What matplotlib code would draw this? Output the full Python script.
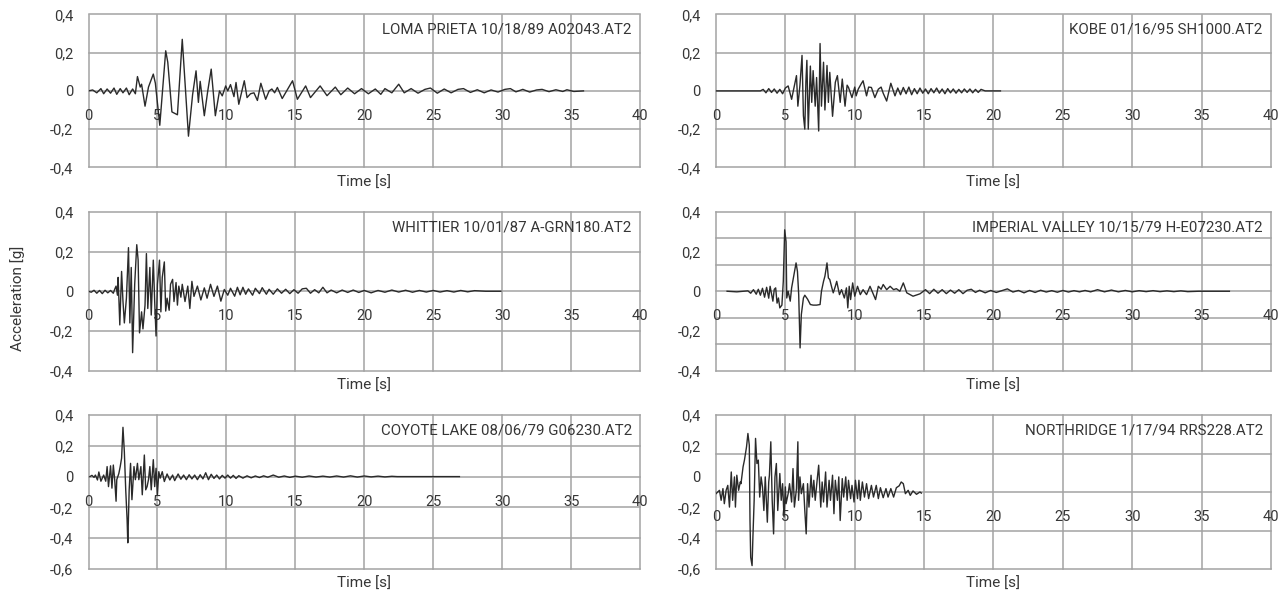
import matplotlib

matplotlib.use("Agg")
import matplotlib.pyplot as plt

plt.rcParams["font.family"] = ["Roboto", "DejaVu Sans"]

TEXT_COLOR = "#363636"
GRID_COLOR = "#a3a3a3"
LINE_COLOR = "#2a2a2a"

X_TICKS = [0, 5, 10, 15, 20, 25, 30, 35, 40]
Y_LABELS_04 = ["-0,4", "-0,2", "0", "0,2", "0,4"]
Y_LABELS_06 = ["-0,6", "-0,4", "-0,2", "0", "0,2", "0,4"]

TITLES = [
    "LOMA PRIETA 10/18/89 A02043.AT2",
    "KOBE 01/16/95 SH1000.AT2",
    "WHITTIER 10/01/87 A-GRN180.AT2",
    "IMPERIAL VALLEY 10/15/79 H-E07230.AT2",
    "COYOTE LAKE 08/06/79 G06230.AT2",
    "NORTHRIDGE 1/17/94 RRS228.AT2",
]

# (time [s], acceleration [g])
LOMA = [
    (0.0, 0.0), (0.3, 0.005), (0.6, -0.01), (0.9, 0.012), (1.1, -0.015), (1.35, 0.01),
    (1.6, -0.012), (1.85, 0.015), (2.05, -0.018), (2.3, 0.012), (2.5, -0.01), (2.75, 0.015),
    (2.95, -0.02), (3.2, 0.01), (3.4, -0.015), (3.55, 0.075), (3.75, 0.02), (3.85, 0.035),
    (4.1, -0.08), (4.35, 0.02), (4.7, 0.088), (4.85, 0.04), (5.17, -0.18), (5.6, 0.21),
    (5.75, 0.15), (6.05, -0.11), (6.45, -0.125), (6.8, 0.27), (7.25, -0.237), (7.55, -0.02),
    (7.8, 0.105), (7.97, -0.06), (8.1, 0.05), (8.4, -0.13), (8.65, 0.0), (8.9, 0.114),
    (9.2, -0.13), (9.5, 0.0), (9.7, -0.026), (9.95, 0.026), (10.1, 0.0), (10.3, 0.033),
    (10.55, -0.03), (10.7, 0.044), (10.9, -0.07), (11.3, 0.053), (11.5, -0.035), (11.75, -0.015),
    (12.0, -0.01), (12.25, -0.05), (12.5, 0.04), (12.85, -0.044), (13.1, 0.0), (13.3, 0.01),
    (13.5, -0.01), (13.7, 0.018), (14.05, -0.04), (14.8, 0.053), (15.15, -0.044), (15.75, 0.026),
    (16.1, -0.035), (16.8, 0.026), (17.3, -0.025), (17.9, 0.02), (18.3, -0.02), (18.8, 0.015),
    (19.3, -0.015), (19.8, 0.012), (20.3, -0.015), (20.8, 0.01), (21.2, -0.018), (21.5, 0.012),
    (22.0, -0.01), (22.5, 0.035), (22.9, -0.01), (23.4, 0.012), (23.9, -0.012), (24.4, 0.008),
    (24.8, 0.015), (25.3, -0.012), (25.8, 0.01), (26.3, -0.01), (26.8, 0.008), (27.2, 0.012),
    (27.7, -0.008), (28.2, 0.006), (28.7, -0.01), (29.2, 0.005), (29.7, -0.006), (30.2, 0.008),
    (30.6, 0.012), (31.0, -0.005), (31.5, 0.008), (32.0, -0.006), (32.5, 0.005), (32.9, 0.008),
    (33.4, -0.004), (33.9, 0.006), (34.4, -0.003), (34.7, 0.006), (35.2, -0.003), (35.9, 0.0),
]

KOBE = [
    (0.0, 0.0), (3.2, 0.0), (3.4, 0.008), (3.6, -0.01), (3.8, 0.012), (4.0, -0.008),
    (4.2, 0.01), (4.4, -0.012), (4.6, 0.008), (4.8, -0.015), (5.0, 0.015), (5.2, 0.026),
    (5.45, -0.044), (5.6, 0.01), (5.8, 0.08), (5.9, -0.08), (6.05, 0.03), (6.2, 0.186),
    (6.3, -0.13), (6.4, -0.2), (6.48, 0.05), (6.55, 0.16), (6.65, -0.2), (6.8, 0.13),
    (6.9, -0.06), (7.0, 0.106), (7.15, -0.08), (7.25, 0.07), (7.4, -0.21), (7.5, 0.248),
    (7.6, -0.08), (7.75, 0.15), (7.85, -0.1), (8.0, 0.133), (8.1, -0.06), (8.2, 0.097),
    (8.4, -0.133), (8.6, 0.045), (8.75, 0.08), (8.95, -0.06), (9.1, 0.062), (9.3, -0.08),
    (9.45, 0.03), (9.55, 0.018), (9.8, -0.035), (10.0, 0.02), (10.1, -0.026), (10.25, 0.009),
    (10.45, 0.035), (10.6, 0.053), (10.85, -0.026), (11.0, 0.02), (11.2, 0.018), (11.45, -0.035),
    (11.7, 0.009), (11.9, 0.02), (12.05, -0.012), (12.3, -0.053), (12.6, 0.04), (12.9, -0.026),
    (13.1, 0.015), (13.3, -0.02), (13.5, 0.018), (13.7, -0.015), (13.9, 0.02), (14.1, -0.02),
    (14.3, 0.012), (14.5, -0.015), (14.7, 0.015), (14.9, -0.012), (15.1, 0.01), (15.3, -0.015),
    (15.5, 0.012), (15.7, -0.01), (15.9, 0.015), (16.1, -0.012), (16.3, 0.01), (16.5, -0.015),
    (16.7, 0.012), (16.9, -0.01), (17.1, 0.01), (17.3, -0.012), (17.5, 0.008), (17.7, -0.01),
    (17.9, 0.01), (18.1, -0.008), (18.3, 0.01), (18.5, -0.01), (18.7, 0.008), (18.9, -0.008),
    (19.1, 0.008), (19.4, 0.0), (20.5, 0.0),
]

WHITTIER = [
    (0.0, 0.0), (0.2, -0.005), (0.4, 0.005), (0.6, -0.01), (0.8, 0.004), (1.0, -0.012),
    (1.2, 0.005), (1.4, -0.008), (1.6, 0.004), (1.8, -0.01), (1.9, 0.01), (2.0, 0.026),
    (2.1, -0.02), (2.15, 0.07), (2.27, -0.17), (2.4, 0.1), (2.5, -0.05), (2.6, -0.16),
    (2.75, -0.035), (2.9, 0.22), (3.0, -0.16), (3.1, 0.12), (3.2, -0.31), (3.35, 0.035),
    (3.5, 0.235), (3.6, 0.157), (3.7, -0.21), (3.85, -0.104), (3.95, -0.19), (4.1, -0.07),
    (4.2, 0.19), (4.3, -0.087), (4.45, 0.12), (4.55, -0.12), (4.7, 0.157), (4.8, -0.052),
    (4.9, -0.226), (5.0, 0.035), (5.15, 0.157), (5.25, -0.104), (5.35, 0.07), (5.5, 0.148),
    (5.6, -0.1), (5.7, -0.035), (5.85, -0.096), (5.95, 0.035), (6.1, 0.06), (6.2, -0.052),
    (6.35, 0.044), (6.45, -0.07), (6.55, 0.026), (6.7, -0.03), (6.8, 0.035), (7.0, -0.052),
    (7.2, 0.026), (7.35, -0.087), (7.5, 0.05), (7.65, -0.026), (7.9, 0.026), (8.15, -0.044),
    (8.4, 0.017), (8.6, -0.035), (8.85, 0.035), (9.1, -0.026), (9.35, 0.026), (9.6, -0.05),
    (9.85, 0.009), (10.1, -0.02), (10.3, 0.015), (10.6, -0.025), (10.8, 0.02), (11.0, -0.018),
    (11.2, 0.02), (11.4, -0.015), (11.6, 0.012), (11.9, -0.02), (12.1, 0.015), (12.4, -0.012),
    (12.6, 0.018), (12.9, -0.015), (13.1, 0.01), (13.4, -0.015), (13.7, 0.012), (14.0, -0.01),
    (14.3, 0.01), (14.6, -0.012), (14.9, 0.008), (15.2, -0.01), (15.5, 0.012), (15.8, 0.015),
    (16.1, -0.01), (16.4, 0.008), (16.7, -0.008), (17.0, 0.02), (17.3, -0.008), (17.6, 0.006),
    (18.0, -0.008), (18.4, 0.006), (18.8, -0.006), (19.2, 0.006), (19.6, -0.006), (20.0, 0.004),
    (20.5, -0.008), (21.0, 0.004), (21.5, -0.005), (22.0, 0.006), (22.5, -0.004), (23.0, 0.005),
    (23.5, -0.005), (24.0, 0.004), (24.5, -0.004), (25.0, 0.004), (25.5, -0.004), (26.0, 0.003),
    (26.5, -0.004), (27.0, 0.004), (27.5, -0.003), (28.0, 0.003), (28.8, 0.0), (29.9, 0.0),
]

IMPERIAL = [
    (0.8, 0.0), (1.5, -0.003), (2.3, 0.002), (2.5, -0.01), (2.7, 0.008), (2.9, -0.015),
    (3.05, 0.01), (3.2, -0.02), (3.35, 0.015), (3.5, -0.03), (3.65, 0.02), (3.8, -0.035),
    (3.9, 0.025), (4.1, -0.05), (4.2, 0.01), (4.3, 0.017), (4.4, -0.06), (4.5, -0.034),
    (4.6, -0.084), (4.75, -0.07), (4.85, 0.05), (4.95, 0.31), (5.05, 0.25), (5.1, -0.034),
    (5.2, 0.0), (5.35, -0.05), (5.45, 0.017), (5.6, 0.076), (5.77, 0.143), (5.87, 0.1),
    (5.96, -0.017), (6.06, -0.286), (6.15, -0.118), (6.3, -0.034), (6.4, -0.02), (6.6, -0.04),
    (6.8, -0.067), (7.0, -0.07), (7.25, -0.07), (7.5, -0.067), (7.6, 0.0), (7.75, 0.05),
    (7.85, 0.076), (8.0, 0.143), (8.1, 0.067), (8.2, 0.059), (8.35, 0.017), (8.45, -0.008),
    (8.6, 0.025), (8.7, 0.05), (8.9, -0.017), (9.05, 0.008), (9.25, -0.034), (9.4, 0.017),
    (9.5, -0.084), (9.6, 0.025), (9.7, -0.042), (9.85, 0.042), (10.0, -0.025), (10.2, 0.025),
    (10.4, -0.017), (10.6, 0.008), (10.85, -0.017), (11.1, 0.025), (11.35, -0.017), (11.5, -0.042),
    (11.7, 0.025), (11.9, 0.01), (12.05, 0.034), (12.3, 0.008), (12.55, 0.025), (12.8, 0.008),
    (13.0, 0.013), (13.25, 0.0), (13.5, 0.042), (13.75, -0.008), (14.2, -0.025), (14.7, -0.013),
    (15.1, 0.008), (15.4, -0.012), (15.7, 0.01), (16.0, -0.01), (16.3, 0.008), (16.6, -0.012),
    (16.9, 0.006), (17.2, -0.01), (17.5, 0.008), (17.8, -0.012), (18.1, 0.005), (18.4, 0.01),
    (18.7, -0.006), (19.0, 0.005), (19.4, -0.008), (19.8, 0.004), (20.2, -0.006), (20.6, 0.003),
    (21.0, 0.012), (21.4, -0.004), (21.8, 0.004), (22.2, -0.008), (22.6, 0.004), (23.0, -0.006),
    (23.4, 0.005), (23.8, -0.004), (24.2, 0.003), (24.6, -0.005), (25.0, 0.004), (25.4, -0.004),
    (25.8, 0.003), (26.2, -0.003), (26.6, 0.004), (27.0, -0.003), (27.5, 0.008), (28.0, -0.003),
    (28.5, 0.006), (29.0, -0.003), (29.5, 0.004), (30.0, -0.003), (30.5, 0.003), (31.0, -0.002),
    (31.5, 0.003), (32.0, -0.002), (32.5, 0.002), (33.0, -0.002), (33.5, 0.002), (34.0, -0.002),
    (34.8, 0.0), (37.0, 0.0),
]

COYOTE = [
    (0.1, 0.0), (0.25, 0.008), (0.4, -0.005), (0.5, 0.01), (0.65, -0.022), (0.75, 0.03),
    (0.9, -0.03), (1.0, -0.01), (1.1, 0.01), (1.25, -0.03), (1.35, 0.065), (1.45, -0.065),
    (1.6, 0.07), (1.7, -0.075), (1.8, 0.075), (1.9, -0.02), (2.0, -0.16), (2.05, -0.02),
    (2.2, 0.02), (2.3, 0.065), (2.4, 0.12), (2.5, 0.32), (2.6, 0.16), (2.7, -0.086),
    (2.8, -0.28), (2.85, -0.43), (2.95, -0.086), (3.05, 0.086), (3.15, -0.15), (3.3, 0.065),
    (3.4, -0.02), (3.55, 0.086), (3.65, -0.02), (3.8, 0.065), (3.9, -0.118), (4.05, 0.14),
    (4.15, -0.086), (4.25, -0.065), (4.35, -0.02), (4.45, 0.065), (4.55, -0.086), (4.7, 0.11),
    (4.8, -0.065), (4.9, 0.054), (5.0, -0.118), (5.1, 0.032), (5.2, -0.01), (5.35, 0.032),
    (5.5, -0.032), (5.7, 0.017), (5.9, -0.022), (6.1, 0.01), (6.25, -0.026), (6.5, 0.017),
    (6.7, -0.017), (6.9, 0.01), (7.1, -0.02), (7.3, 0.012), (7.5, -0.015), (7.7, 0.01),
    (7.9, -0.02), (8.1, 0.012), (8.3, -0.015), (8.5, 0.025), (8.7, -0.02), (8.9, 0.015),
    (9.1, -0.012), (9.3, 0.01), (9.5, -0.015), (9.7, 0.008), (9.9, -0.01), (10.1, 0.01),
    (10.3, -0.01), (10.5, 0.008), (10.7, -0.012), (10.9, 0.006), (11.2, -0.01), (11.5, 0.005),
    (11.8, -0.008), (12.1, 0.004), (12.4, -0.006), (12.7, 0.005), (13.0, -0.004), (13.4, 0.01),
    (13.8, -0.004), (14.2, 0.004), (14.6, -0.005), (15.0, 0.003), (15.5, -0.004), (16.0, 0.004),
    (16.5, -0.003), (17.0, 0.003), (17.5, -0.003), (18.0, 0.004), (18.5, -0.003), (19.0, 0.005),
    (19.5, -0.003), (20.0, 0.004), (20.5, -0.002), (21.0, 0.003), (21.5, -0.002), (22.0, 0.002),
    (22.4, 0.0), (26.9, 0.0),
]

NORTHRIDGE = [
    (0.0, -0.111), (0.25, -0.089), (0.37, -0.154), (0.5, -0.078), (0.6, -0.176), (0.73, -0.089),
    (0.85, -0.057), (0.97, -0.198), (1.1, 0.03), (1.2, -0.154), (1.33, -0.002), (1.4, -0.198),
    (1.5, 0.009), (1.63, -0.089), (1.75, -0.035), (1.8, -0.046), (1.95, 0.063), (2.05, 0.107),
    (2.2, 0.193), (2.3, 0.28), (2.4, 0.204), (2.45, -0.285), (2.5, -0.524), (2.6, -0.578),
    (2.66, -0.393), (2.75, -0.154), (2.85, 0.248), (2.95, 0.085), (3.05, 0.107), (3.15, -0.133),
    (3.25, -0.002), (3.35, -0.067), (3.45, -0.22), (3.55, -0.002), (3.7, -0.296), (3.8, -0.035),
    (3.85, 0.009), (3.95, 0.226), (4.05, -0.154), (4.15, -0.372), (4.25, -0.002), (4.35, 0.085),
    (4.45, -0.22), (4.6, 0.02), (4.7, -0.154), (4.8, -0.046), (4.9, -0.263), (5.0, -0.067),
    (5.05, -0.176), (5.2, -0.111), (5.3, -0.046), (5.45, -0.165), (5.55, 0.052), (5.65, -0.198),
    (5.8, -0.078), (5.9, 0.226), (5.95, -0.154), (6.05, -0.002), (6.15, -0.111), (6.3, -0.046),
    (6.4, -0.22), (6.5, -0.372), (6.6, -0.046), (6.7, -0.198), (6.85, 0.009), (6.95, -0.133),
    (7.05, -0.024), (7.15, -0.154), (7.3, -0.013), (7.4, 0.074), (7.55, -0.198), (7.65, -0.035),
    (7.75, -0.165), (7.9, 0.03), (8.0, -0.198), (8.15, -0.024), (8.25, -0.154), (8.4, 0.009),
    (8.5, -0.241), (8.6, -0.024), (8.75, -0.154), (8.85, -0.002), (8.95, -0.285), (9.1, -0.013),
    (9.2, -0.133), (9.35, -0.002), (9.45, -0.154), (9.55, -0.024), (9.7, -0.143), (9.8, -0.057),
    (9.95, -0.165), (10.05, -0.024), (10.2, -0.143), (10.3, -0.024), (10.4, -0.154), (10.55, -0.035),
    (10.7, -0.133), (10.85, -0.046), (11.0, -0.143), (11.2, -0.057), (11.35, -0.133), (11.55, -0.057),
    (11.7, -0.143), (11.85, -0.072), (12.05, -0.137), (12.25, -0.078), (12.4, -0.133), (12.6, -0.078),
    (12.8, -0.133), (13.0, -0.072), (13.2, -0.06), (13.35, -0.035), (13.5, -0.046), (13.65, -0.111),
    (13.85, -0.089), (14.0, -0.122), (14.2, -0.093), (14.45, -0.115), (14.7, -0.1), (14.8, -0.107),
]

RECORDS = [LOMA, KOBE, WHITTIER, IMPERIAL, COYOTE, NORTHRIDGE]

# per-panel axis setup: y range, horizontal grid values, labelled values, where the time axis sits
PANEL_AXES = [
    dict(ylim=(-0.4, 0.4), grid_y=[-0.4, -0.2, 0.0, 0.2, 0.4], labels=Y_LABELS_04, axis_y=0.0),
    dict(ylim=(-0.4, 0.4), grid_y=[-0.4, -0.2, 0.0, 0.2, 0.4], labels=Y_LABELS_04, axis_y=0.0),
    dict(ylim=(-0.4, 0.4), grid_y=[-0.4, -0.2, 0.0, 0.2, 0.4], labels=Y_LABELS_04, axis_y=0.0),
    dict(ylim=(-0.4, 0.4), grid_y=[-0.4, -0.4 * 2 / 3, -0.4 / 3, 0.0, 0.4 / 3, 0.4 * 2 / 3, 0.4],
         labels=Y_LABELS_04, axis_y=0.0),
    dict(ylim=(-0.6, 0.4), grid_y=[-0.6, -0.4, -0.2, 0.0, 0.2, 0.4], labels=Y_LABELS_06, axis_y=0.0),
    dict(ylim=(-0.6, 0.4), grid_y=[-0.6, -0.35, -0.1, 0.15, 0.4], labels=Y_LABELS_06, axis_y=-0.1),
]

FIG_W, FIG_H = 1287, 598
COLS = [(88.5, 640.0), (716.0, 1271.0)]
ROWS = [(14.5, 167.3), (212.0, 370.5), (415.0, 569.0)]


def rect(col, row):
    x0, x1 = COLS[col]
    y0, y1 = ROWS[row]
    return [x0 / FIG_W, 1 - y1 / FIG_H, (x1 - x0) / FIG_W, (y1 - y0) / FIG_H]


def draw_panel(ax, record, title, setup):
    t = [p[0] for p in record]
    a = [p[1] for p in record]
    ax.plot(t, a, color=LINE_COLOR, linewidth=1.0, zorder=3)
    ax.set_xlim(0, 40)
    ax.set_ylim(*setup["ylim"])

    for x in X_TICKS:
        ax.axvline(x, color=GRID_COLOR, linewidth=1.1, zorder=1, clip_on=False)
    for y in setup["grid_y"]:
        ax.axhline(y, color=GRID_COLOR, linewidth=1.1, zorder=1, clip_on=False)

    for spine in ax.spines.values():
        spine.set_visible(False)
    ax.spines["bottom"].set_position(("data", setup["axis_y"]))

    lo, hi = setup["ylim"]
    n = len(setup["labels"])
    ax.set_yticks([lo + (hi - lo) * i / (n - 1) for i in range(n)])
    ax.set_yticklabels(setup["labels"])
    ax.set_xticks(X_TICKS)
    ax.set_xticklabels([str(x) for x in X_TICKS])
    ax.tick_params(axis="x", length=0, pad=13, labelsize=10.5, labelcolor=TEXT_COLOR)
    ax.tick_params(axis="y", length=0, pad=11, labelsize=10.5, labelcolor=TEXT_COLOR)

    ax.annotate(title, xy=(1, 1), xycoords="axes fraction", xytext=(-6, -11),
                textcoords="offset points", ha="right", va="center",
                fontsize=10.8, color=TEXT_COLOR)
    ax.annotate("Time [s]", xy=(0.5, 0), xycoords="axes fraction", xytext=(0, -11),
                textcoords="offset points", ha="center", va="center",
                fontsize=11, color=TEXT_COLOR)


def main():
    fig = plt.figure(figsize=(FIG_W / 100, FIG_H / 100), dpi=100)
    for i, (record, title, setup) in enumerate(zip(RECORDS, TITLES, PANEL_AXES)):
        ax = fig.add_axes(rect(i % 2, i // 2))
        draw_panel(ax, record, title, setup)

    fig.text(18 / FIG_W, 1 - 298 / FIG_H, "Acceleration [g]", rotation=90,
             ha="center", va="center", fontsize=11, color=TEXT_COLOR)
    fig.savefig("out.png", dpi=100)


if __name__ == "__main__":
    main()
